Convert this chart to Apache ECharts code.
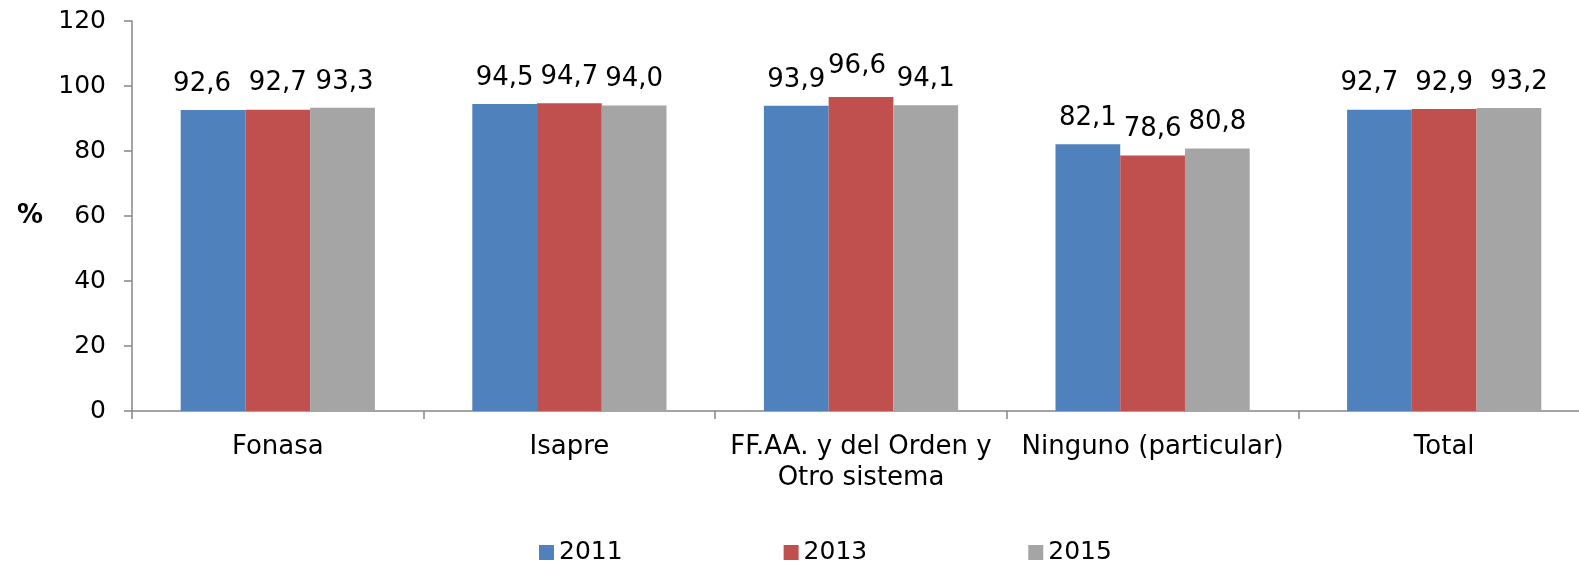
<!DOCTYPE html>
<html>
<head>
<meta charset="utf-8">
<script src="https://cdn.jsdelivr.net/npm/echarts@6/dist/echarts.min.js"></script>
<style>
html,body{margin:0;padding:0;background:#fff;overflow:hidden;width:1579px;height:562px;}
#chart{width:1590px;height:562px;}
</style>
</head>
<body>
<div id="chart"></div>
<script>
var categories = ['Fonasa', 'Isapre', 'FF.AA. y del Orden y\nOtro sistema', 'Ninguno (particular)', 'Total'];
var years = ['2011', '2013', '2015'];
var values2011 = [92.6, 94.5, 93.9, 82.1, 92.7];
var values2013 = [92.7, 94.7, 96.6, 78.6, 92.9];
var values2015 = [93.3, 94.0, 94.1, 80.8, 93.2];
var yTicks = [0, 20, 40, 60, 80, 100, 120];
var colors = ['#4F81BD', '#C0504D', '#A5A5A5'];

// nudges [dx, dy] of some data labels (as placed in the original)
var labelNudge = [
  [[-11, 0], [0, 0], [0, 0], [0, 0], [-10, 0]],
  [[0, 0], [0, 0], [-4, -5], [0, 0], [0, 0]],
  [[2, 0], [0, 0], [0, 0], [0, 0], [10, 0]]
];

var FONT = '"DejaVu Sans", Verdana, sans-serif';
var chart = echarts.init(document.getElementById('chart'));
var seriesData = [values2011, values2013, values2015];

function fmt(p) { return p.value.toFixed(1).replace('.', ','); }

var series = years.map(function (y, i) {
  return {
    name: y,
    type: 'bar',
    data: seriesData[i].map(function (v, j) {
      return { value: v, label: { offset: labelNudge[i][j] } };
    }),
    barGap: '0%',
    barCategoryGap: '33.4%',
    itemStyle: { color: colors[i] },
    label: {
      show: true,
      position: 'top',
      distance: 13,
      formatter: fmt,
      color: '#000',
      fontFamily: FONT,
      fontSize: 26
    }
  };
});

chart.setOption({
  animation: false,
  backgroundColor: '#fff',
  grid: { left: 132, right: 0, top: 21, bottom: 151, containLabel: false },
  legend: {
    data: years,
    left: 539,
    top: 540,
    itemWidth: 15,
    itemHeight: 15,
    itemGap: 161,
    icon: 'rect',
    textStyle: { fontFamily: FONT, fontSize: 25, color: '#000' },
    padding: 0
  },
  xAxis: {
    type: 'category',
    data: categories,
    axisLine: { lineStyle: { color: '#868686', width: 1.5 } },
    axisTick: { show: true, length: 8, lineStyle: { color: '#868686', width: 1.5 } },
    axisLabel: {
      color: '#000',
      fontFamily: FONT,
      fontSize: 26,
      margin: 21,
      lineHeight: 31,
      interval: 0
    }
  },
  yAxis: {
    type: 'value',
    min: yTicks[0],
    max: yTicks[yTicks.length - 1],
    interval: 20,
    name: '%',
    nameLocation: 'middle',
    nameRotate: 0,
    nameGap: 89,
    nameTextStyle: { fontFamily: FONT, fontSize: 26, fontWeight: 'bold', color: '#000', padding: [6, 0, 0, 0] },
    axisLine: { show: true, lineStyle: { color: '#868686', width: 1.5 } },
    axisTick: { show: true, length: 8, lineStyle: { color: '#868686', width: 1.5 } },
    splitLine: { show: false },
    axisLabel: { color: '#000', fontFamily: FONT, fontSize: 25, margin: 26 }
  },
  series: series
});
</script>
</body>
</html>
